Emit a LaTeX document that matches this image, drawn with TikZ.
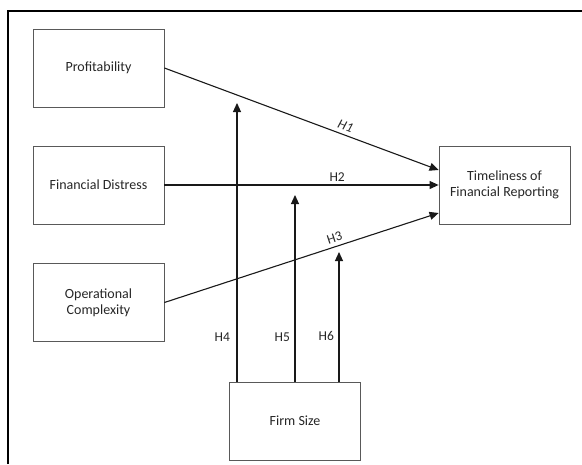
\documentclass[tikz,border=0pt]{standalone}
\usepackage{fontspec}
\setmainfont{Carlito}
\usetikzlibrary{arrows.meta}

\begin{document}
\begin{tikzpicture}[x=1pt,y=-1pt,
        varbox/.style={draw=black!65,line width=0.8pt,minimum width=131pt,minimum height=78pt,
          align=center,font=\fontsize{14}{16}\selectfont,text=black!85,inner sep=2pt},
        path/.style={draw=black!90,line width=1.1pt,-{Triangle[length=9pt,width=8pt]}},
        hyp/.style={font=\fontsize{13.5}{15}\selectfont,text=black!85,inner sep=1.5pt}]
        \useasboundingbox (0,0) rectangle (582,464);
        % frame
        \draw [line width=1.6pt] (8,464) -- (8,11) -- (582,11);
        % variables
        \node [varbox] (prof) at (98.5,68) {Profitability};
        \node [varbox] (dist) at (98.5,185) {Financial Distress};
        \node [varbox] (comp) at (98.5,302.5) {Operational\\Complexity};
        \node [varbox] (time) at (504.5,185) {Timeliness of\\Financial Reporting};
        \node [varbox] (size) at (295,421) {Firm Size};
        % moderating arrows end here
        \coordinate (m4) at (237,103);
        \coordinate (m5) at (295,195);
        \coordinate (m6) at (339,252);
        % direct effects
        \draw [path] (prof.east) -- ([yshift=15pt]time.west)
                node [hyp,pos=0.65,above=2pt,sloped] {\itshape H1};
        \draw [path] (dist.east) -- (time.west)
                node [hyp,pos=0.63,above=1pt] {H2};
        \draw [path] (comp.east) -- ([yshift=-28pt]time.west)
                node [hyp,pos=0.63,above=2pt,sloped] {H3};
        % moderation by firm size
        \draw [path] (size.north -| m4) -- (m4) node [hyp,pos=0.16,left=5pt] {H4};
        \draw [path] (size.north -| m5) -- (m5) node [hyp,pos=0.24,left=3pt] {H5};
        \draw [path] (size.north -| m6) -- (m6) node [hyp,pos=0.35,left=3pt] {H6};
\end{tikzpicture}
\end{document}
